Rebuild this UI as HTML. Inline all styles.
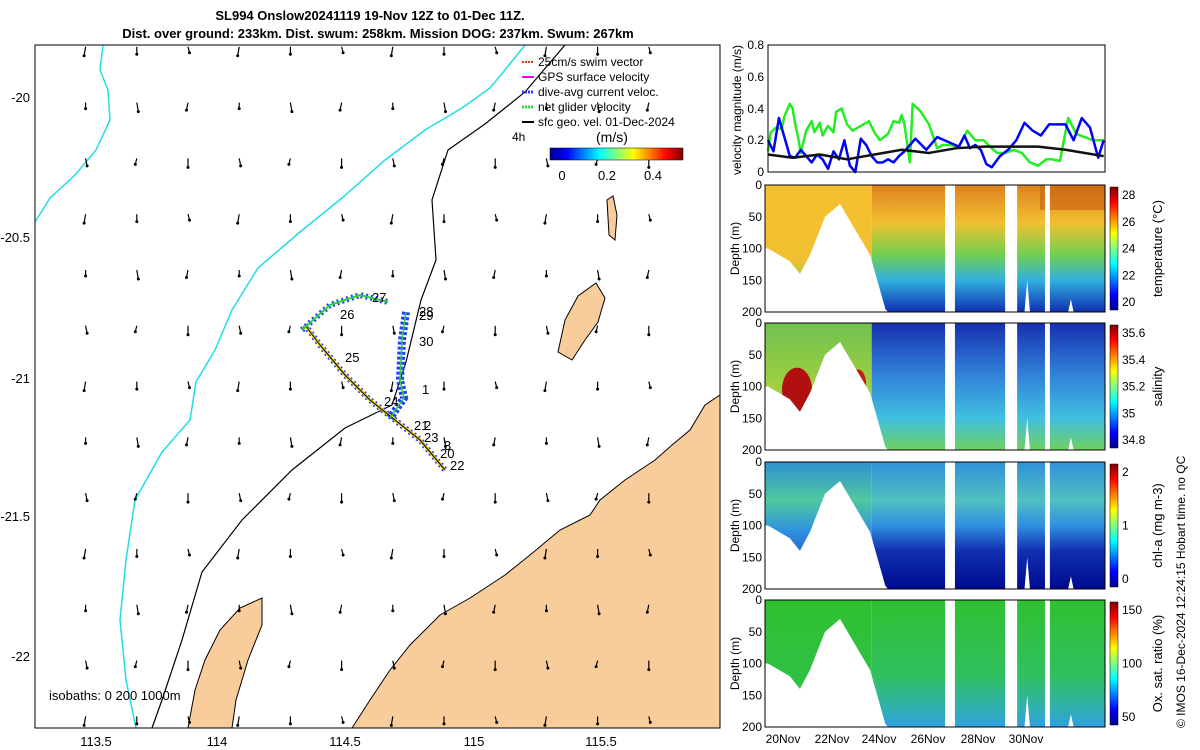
<!DOCTYPE html>
<html><head><meta charset="utf-8"><style>
body{margin:0;background:#fff;}
svg{display:block;font-family:"Liberation Sans",sans-serif;}
</style></head><body>
<svg id="s" width="1200" height="750" viewBox="0 0 1200 750">
<defs>
<linearGradient id="jet" x1="0" x2="1" y1="0" y2="0">
<stop offset="0" stop-color="#00008f"/><stop offset="0.125" stop-color="#0000ff"/><stop offset="0.375" stop-color="#00ffff"/><stop offset="0.625" stop-color="#ffff00"/><stop offset="0.875" stop-color="#ff0000"/><stop offset="1" stop-color="#800000"/></linearGradient>
<linearGradient id="jetv" x1="0" x2="0" y1="1" y2="0">
<stop offset="0" stop-color="#00008f"/><stop offset="0.125" stop-color="#0000ff"/><stop offset="0.375" stop-color="#00ffff"/><stop offset="0.625" stop-color="#ffff00"/><stop offset="0.875" stop-color="#ff0000"/><stop offset="1" stop-color="#800000"/></linearGradient>
<linearGradient id="gTL" x1="0" x2="0" y1="0" y2="1"><stop offset="0" stop-color="#f5c030"/><stop offset="0.6" stop-color="#f0c030"/><stop offset="0.75" stop-color="#a0d040"/><stop offset="1" stop-color="#40b0e0"/></linearGradient>
<linearGradient id="gTR" x1="0" x2="0" y1="0" y2="1"><stop offset="0" stop-color="#e08020"/><stop offset="0.3" stop-color="#f0c030"/><stop offset="0.55" stop-color="#70d050"/><stop offset="0.75" stop-color="#30b0e0"/><stop offset="1" stop-color="#1030b0"/></linearGradient>
<linearGradient id="gSL" x1="0" x2="0" y1="0" y2="1"><stop offset="0" stop-color="#70c050"/><stop offset="0.5" stop-color="#a0d040"/><stop offset="0.8" stop-color="#60c8b0"/><stop offset="1" stop-color="#80d040"/></linearGradient>
<linearGradient id="gSR" x1="0" x2="0" y1="0" y2="1"><stop offset="0" stop-color="#1830b0"/><stop offset="0.4" stop-color="#3080d8"/><stop offset="0.75" stop-color="#40c0e0"/><stop offset="1" stop-color="#70d060"/></linearGradient>
<linearGradient id="gCL" x1="0" x2="0" y1="0" y2="1"><stop offset="0" stop-color="#3090d0"/><stop offset="0.3" stop-color="#50c8a0"/><stop offset="0.55" stop-color="#3090e0"/><stop offset="1" stop-color="#1030b0"/></linearGradient>
<linearGradient id="gCR" x1="0" x2="0" y1="0" y2="1"><stop offset="0" stop-color="#3090d8"/><stop offset="0.3" stop-color="#50c0c0"/><stop offset="0.5" stop-color="#3090e0"/><stop offset="0.7" stop-color="#1030b0"/><stop offset="1" stop-color="#000a90"/></linearGradient>
<linearGradient id="gOL" x1="0" x2="0" y1="0" y2="1"><stop offset="0" stop-color="#30c030"/><stop offset="1" stop-color="#30c050"/></linearGradient>
<linearGradient id="gOR" x1="0" x2="0" y1="0" y2="1"><stop offset="0" stop-color="#30c030"/><stop offset="0.6" stop-color="#30c060"/><stop offset="0.85" stop-color="#30b0b0"/><stop offset="1" stop-color="#30a0e0"/></linearGradient>
</defs>
<g font-weight="bold" font-size="13" text-anchor="middle">
<text x="370" y="20">SL994 Onslow20241119 19-Nov 12Z to 01-Dec 11Z.</text>
<text x="378" y="38">Dist. over ground: 233km. Dist. swum: 258km. Mission DOG: 237km. Swum: 267km</text>
</g>
<g id="map">
<rect x="35" y="45" width="685" height="683" fill="#fff"/>
<polygon fill="#f9cc9c" stroke="#000" stroke-width="1" points="720,395 705,405 690,430 672,445 655,460 625,480 600,500 590,515 560,530 530,555 505,575 470,598 440,615 410,645 390,670 370,700 352,728 720,728"/>
<polygon fill="#f9cc9c" stroke="#000" points="188,728 195,690 205,660 220,630 240,608 262,598 262,625 248,660 236,700 232,728"/>
<polygon fill="#f9cc9c" stroke="#000" points="558,352 565,320 578,296 596,283 605,298 598,322 585,340 572,360"/>
<polygon fill="#f9cc9c" stroke="#000" points="607,200 613,196 617,215 615,240 609,235"/>
<polyline fill="none" stroke="#22dde8" stroke-width="1.5" points="103,45 100,70 108,90 110,120 96,150 75,175 50,198 35,222"/>
<polyline fill="none" stroke="#22dde8" stroke-width="1.5" points="525,45 505,70 490,88 462,108 425,130 385,160 342,198 300,232 258,268 232,310 215,350 196,382 190,420 162,452 135,500 126,560 120,620 126,680 136,728"/>
<polyline fill="none" stroke="#000" stroke-width="1.2" points="565,45 525,92 485,124 448,150 432,200 436,260 421,300 406,362 392,405 345,428 292,470 242,520 202,572 182,640 162,700 152,728"/>
<g id="arrows"></g>
<g>
<polyline points="305,325 320,345 345,375 370,400 395,420 420,440 445,470" fill="none" stroke="#2040ff" stroke-width="6" stroke-dasharray="2 3"/>
<polyline points="305,325 320,345 345,375 370,400 395,420 420,440 445,470" fill="none" stroke="#f0d000" stroke-width="3"/>
<polyline points="305,325 320,345 345,375 370,400 395,420 420,440 445,470" fill="none" stroke="#000" stroke-width="1"/>
<polyline points="302,330 330,305 360,295 388,302" fill="none" stroke="#2040ff" stroke-width="6" stroke-dasharray="2 3"/>
<polyline points="302,330 330,305 360,295 388,302" fill="none" stroke="#30d030" stroke-width="2"/>
<polyline points="406,312 402,340 400,380 404,398 390,418" fill="none" stroke="#2040ff" stroke-width="8" stroke-dasharray="3 2"/>
<polyline points="406,312 402,340 400,380 404,398 390,418" fill="none" stroke="#30d030" stroke-width="1.5"/>
</g>
<g font-size="13">
<text x="372" y="302">27</text><text x="340" y="319">26</text><text x="419" y="316">28</text><text x="419" y="320">29</text>
<text x="419" y="346">30</text><text x="345" y="362">25</text><text x="422" y="394">1</text><text x="384" y="406">24</text>
<text x="414" y="430">21</text><text x="424" y="430">2</text><text x="424" y="442">23</text><text x="444" y="450">3</text>
<text x="440" y="458">20</text><text x="450" y="470">22</text>
</g>
<rect x="35" y="45" width="685" height="683" fill="none" stroke="#000"/>
<g font-size="13" text-anchor="middle">
<text x="96" y="746">113.5</text><text x="217" y="746">114</text><text x="345" y="746">114.5</text><text x="474" y="746">115</text><text x="601" y="746">115.5</text>
</g>
<g font-size="13" text-anchor="end">
<text x="30" y="102">-20</text><text x="30" y="242">-20.5</text><text x="30" y="383">-21</text><text x="30" y="521">-21.5</text><text x="30" y="661">-22</text>
</g>
<text x="49" y="700" font-size="13">isobaths: 0   200 1000m</text>
<g font-size="12">
<line x1="522" y1="62" x2="534" y2="62" stroke="#e04000" stroke-width="2" stroke-dasharray="2 1"/><text x="538" y="66">25cm/s swim vector</text>
<line x1="522" y1="77" x2="534" y2="77" stroke="#ff00ff" stroke-width="2"/><text x="538" y="81">GPS surface velocity</text>
<line x1="522" y1="92" x2="534" y2="92" stroke="#2040ff" stroke-width="3" stroke-dasharray="2 1"/><text x="538" y="96">dive-avg current veloc.</text>
<line x1="522" y1="107" x2="534" y2="107" stroke="#30e030" stroke-width="3" stroke-dasharray="2 1"/><text x="538" y="111">net glider velocity</text>
<line x1="522" y1="122" x2="534" y2="122" stroke="#000" stroke-width="2"/><text x="538" y="126">sfc geo. vel. 01-Dec-2024</text>
<text x="512" y="141">4h</text>
<text x="596" y="142" font-size="14">(m/s)</text>
<rect x="550" y="148" width="133" height="12" fill="url(#jet)" stroke="#000" stroke-width="0.5"/>
<text x="562" y="180" text-anchor="middle" font-size="13">0</text><text x="607" y="180" text-anchor="middle" font-size="13">0.2</text><text x="653" y="180" text-anchor="middle" font-size="13">0.4</text>
</g>
</g>

<g id="vel">
<g id="velLines"></g>
<rect x="768" y="45" width="337" height="127" fill="none" stroke="#000"/>
<g font-size="12" text-anchor="end">
<text x="764" y="49">0.8</text><text x="764" y="81">0.6</text><text x="764" y="113">0.4</text><text x="764" y="144">0.2</text><text x="764" y="176">0</text></g>
<text transform="translate(741,110) rotate(-90)" font-size="12" text-anchor="middle">velocity magnitude (m/s)</text>
</g>
<g id="sections"></g>
<g font-size="12" text-anchor="middle">
<text x="783" y="743">20Nov</text><text x="832" y="743">22Nov</text><text x="879" y="743">24Nov</text><text x="928" y="743">26Nov</text><text x="978" y="743">28Nov</text><text x="1026" y="743">30Nov</text></g>
<text transform="translate(1185,728) rotate(-90)" font-size="12">© IMOS 16-Dec-2024 12:24:15 Hobart time. no QC</text>
</svg>
<script>
const NS="http://www.w3.org/2000/svg";
const S=document.getElementById('s');
function mk(t,a,p){const e=document.createElementNS(NS,t);for(const k in a)e.setAttribute(k,a[k]);(p||S).appendChild(e);return e;}
const arrowLons=[113.6,113.8,114.0,114.2,114.4,114.6,114.8,115.0,115.2,115.4,115.6,115.8];
const arrowLats=[-19.82,-20.02,-20.22,-20.42,-20.62,-20.82,-21.02,-21.22,-21.42,-21.62,-21.82,-22.02,-22.22];
const arrowU=[-0.01,0.0,0.01];
const arrowV=[-0.06,-0.05,-0.04];
function lonX(l){return 96+(l-113.5)*256;}
function latY(l){return 97-(l+20)*279;}
const AG=document.getElementById('arrows');
arrowLats.forEach((la,i)=>arrowLons.forEach((lo,j)=>{
 const x=lonX(lo)-36,y=latY(la);
 const u=arrowU[(i+j)%3]*150,v=arrowV[(i*2+j)%3]*150;
 const ln=mk('line',{x1:x,y1:y,x2:x+u,y2:y-v,stroke:'#000','stroke-width':1.2},AG);
 
 
 mk('circle',{cx:x+u,cy:y-v,r:1.5,fill:'#000'},AG);
}));
const dayStart=19.6, dayEnd=31.95;
const greenT=[19.6,19.7,19.9,20.1,20.2,20.4,20.5,20.6,20.7,20.8,21.0,21.2,21.3,21.5,21.6,21.8,22.0,22.1,22.3,22.5,22.7,23.0,23.3,23.5,23.7,24.0,24.2,24.4,24.5,24.6,24.8,24.9,25.2,25.5,25.8,26.0,26.3,26.6,26.9,27.2,27.5,27.8,28.0,28.3,28.6,28.9,29.2,29.5,29.8,30.0,30.3,30.6,30.9,31.2,31.5,31.9];
const greenV=[0.13,0.25,0.28,0.27,0.35,0.43,0.40,0.30,0.22,0.12,0.26,0.32,0.25,0.31,0.23,0.29,0.25,0.38,0.40,0.30,0.26,0.29,0.32,0.25,0.20,0.24,0.32,0.31,0.36,0.30,0.06,0.43,0.38,0.30,0.15,0.17,0.17,0.16,0.26,0.20,0.20,0.15,0.12,0.12,0.14,0.12,0.06,0.04,0.08,0.08,0.07,0.34,0.24,0.22,0.20,0.20];
const blueT=[19.6,19.8,20.0,20.2,20.4,20.6,20.8,21.0,21.2,21.4,21.6,21.8,22.0,22.2,22.4,22.6,22.8,23.0,23.2,23.4,23.6,23.8,24.0,24.2,24.4,24.6,24.8,25.0,25.4,25.8,26.2,26.6,26.8,27.0,27.2,27.4,27.6,27.8,28.1,28.4,28.7,29.0,29.3,29.6,29.9,30.2,30.5,30.8,31.1,31.4,31.7,31.9];
const blueV=[0.20,0.13,0.34,0.22,0.10,0.09,0.14,0.10,0.06,0.11,0.08,0.02,0.13,0.08,0.20,0.04,0.00,0.21,0.17,0.10,0.06,0.06,0.08,0.06,0.10,0.13,0.17,0.21,0.14,0.22,0.19,0.16,0.23,0.15,0.17,0.14,0.05,0.03,0.10,0.14,0.20,0.31,0.26,0.23,0.30,0.30,0.30,0.20,0.34,0.28,0.09,0.20];
const blackT=[19.6,20.5,21.5,22.5,23.5,24.5,25.5,26.5,27.5,28.5,29.5,30.5,31.9];
const blackV=[0.11,0.09,0.11,0.08,0.11,0.14,0.12,0.15,0.16,0.16,0.16,0.14,0.10];
function tX(t){return 768+(t-dayStart)/(dayEnd-dayStart)*337;}
function vY(v){return 172-v/0.8*127;}
const VL=document.getElementById('velLines');
[[greenT,greenV,'#22ee22','velocity-net-glider'],[blueT,blueV,'#0000ff','velocity-dive-avg'],[blackT,blackV,'#111','velocity-sfc-geo']].forEach(([T,V,c,n])=>{
 const p=mk('polyline',{points:T.map((t,i)=>tX(t)+','+vY(V[i])).join(' '),fill:'none',stroke:c,'stroke-width':2.5,'stroke-linejoin':'round'},VL);
 
 
});
const panelTops=[185,323,462,600];
const panelGrads=[['gTL','gTR'],['gSL','gSR'],['gCL','gCR'],['gOL','gOR']];
const panelNames=['temperature-section','salinity-section','chla-section','oxygen-section'];
const cbLabels=[['28','26','24','22','20'],['35.6','35.4','35.2','35','34.8'],['2','1','0'],['150','100','50']];
const cbTitles=['temperature (°C)','salinity','chl-a (mg m-3)','Ox. sat. ratio (%)'];
const splitT=23.4;
const bottomT=[19.6,20.4,20.77,21.14,21.69,22.24,22.79,23.34,23.9,24.0,29.0,29.1,29.2,29.4,30.6,30.7,30.8,31.95];
const bottomD=[100,120,140,110,50,30,70,110,195,200,200,150,200,200,200,180,200,200];
const gapT=[[26.09,26.45],[28.29,28.73],[29.75,29.93]];
const depthTicks=[0,50,100,150,200];
panelTops.forEach((top,k)=>{
 const h=127,x0=765,w=340;
 const G=mk('g',{},document.getElementById('sections'));
 
 
 const dY=d=>top+d/200*h;
 const xs=tX(splitT);
 mk('rect',{x:x0,y:top,width:xs-x0,height:h,fill:'url(#'+panelGrads[k][0]+')'},G);
 mk('rect',{x:xs,y:top,width:x0+w-xs,height:h,fill:'url(#'+panelGrads[k][1]+')'},G);
 if(k===1){mk('ellipse',{cx:797,cy:dY(105),rx:15,ry:22,fill:'#b01010'},G);mk('ellipse',{cx:858,cy:dY(95),rx:8,ry:14,fill:'#c02010'},G);}
 if(k===0){mk('rect',{x:1040,y:top,width:65,height:25,fill:'#c86010',opacity:0.6},G);}
 const pts=bottomT.map((t,i)=>tX(t)+','+dY(bottomD[i]));
 mk('polygon',{points:x0+','+(top+h)+' '+x0+','+dY(bottomD[0])+' '+pts.join(' ')+' '+(x0+w)+','+(top+h),fill:'#fff'},G);
 gapT.forEach(g=>mk('rect',{x:tX(g[0]),y:top,width:tX(g[1])-tX(g[0]),height:h,fill:'#fff'},G));
 mk('rect',{x:x0,y:top,width:w,height:h,fill:'none',stroke:'#000'},G);
 depthTicks.forEach(d=>{const t=mk('text',{x:x0-3,y:dY(d)+4,'font-size':12,'text-anchor':'end'},G);t.textContent=d;});
 const yt=mk('text',{transform:'translate(739,'+(top+h/2)+') rotate(-90)','font-size':12,'text-anchor':'middle'},G);yt.textContent='Depth (m)';
 mk('rect',{x:1110,y:top+2,width:8,height:h-4,fill:'url(#jetv)',stroke:'#000','stroke-width':0.5},G);
 const L=cbLabels[k];
 L.forEach((l,i)=>{const yy=top+10+i*(h-20)/(L.length-1);const t=mk('text',{x:1122,y:yy+4,'font-size':12},G);t.textContent=l;});
 const ct=mk('text',{transform:'translate(1162,'+(top+h/2)+') rotate(-90)','font-size':13,'text-anchor':'middle'},G);ct.textContent=cbTitles[k];
});
</script>
</body></html>
